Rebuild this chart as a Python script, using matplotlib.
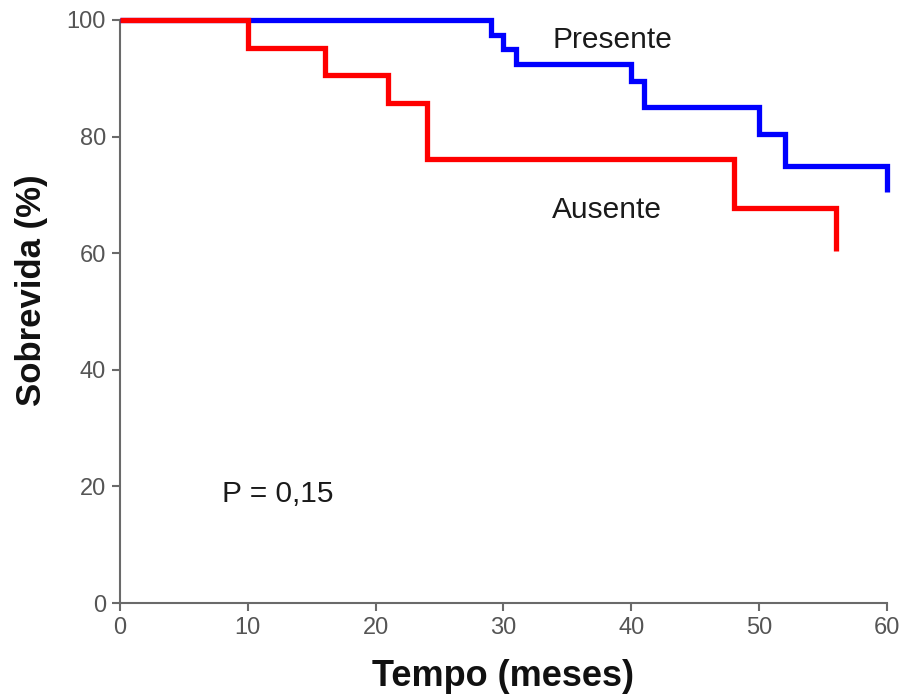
import matplotlib
matplotlib.use("Agg")
import matplotlib.pyplot as plt

# Data (Kaplan-Meier steps)
presente_t = [0, 29, 30, 31, 40, 41, 50, 52, 60]
presente_s = [100, 97.5, 95.0, 92.5, 89.5, 85.0, 80.5, 75.0, 70.5]
ausente_t = [0, 10, 16, 21, 24, 48, 56]
ausente_s = [100, 95.2, 90.5, 85.7, 76.2, 67.7, 60.3]
xticks = [0, 10, 20, 30, 40, 50, 60]
yticks = [0, 20, 40, 60, 80, 100]

plt.rcParams['font.family'] = ['Liberation Sans', 'DejaVu Sans']

fig = plt.figure(figsize=(9.04, 6.99), dpi=100)
ax = fig.add_axes([120/904, 1-603/699, (887-120)/904, (603-20)/699])

ax.step(presente_t, presente_s, where='post', color='#0000ff', lw=3.8,
        solid_joinstyle='miter', solid_capstyle='butt', clip_on=False, zorder=3)
ax.step(ausente_t, ausente_s, where='post', color='#ff0000', lw=3.8,
        solid_joinstyle='miter', solid_capstyle='butt', clip_on=False, zorder=3)

ax.set_xlim(0, 60)
ax.set_ylim(0, 100)
ax.set_xticks(xticks)
ax.set_yticks(yticks)
for s in ['top', 'right']:
    ax.spines[s].set_visible(False)
for s in ['left', 'bottom']:
    ax.spines[s].set_color('#6a6a6a')
    ax.spines[s].set_linewidth(1.5)
ax.tick_params(axis='both', direction='out', length=6, width=1.5, color='#6a6a6a',
               labelcolor='#555555', labelsize=17, pad=4)

fig.text(32/904, 1-290/699, 'Sobrevida (%)', rotation=90, ha='center', va='center',
         fontsize=25, fontweight='bold', color='#111111')
fig.text(503/904, 1-677/699, 'Tempo (meses)', ha='center', va='center',
         fontsize=26, fontweight='bold', color='#111111')

ax.text(33.8, 96.6, 'Presente', ha='left', va='center', fontsize=21.5, color='#1a1a1a')
ax.text(33.8, 67.4, 'Ausente', ha='left', va='center', fontsize=21.5, color='#1a1a1a')
ax.text(8.0, 18.7, 'P = 0,15', ha='left', va='center', fontsize=21.5, color='#1a1a1a')

fig.savefig('out.png', dpi=100)
